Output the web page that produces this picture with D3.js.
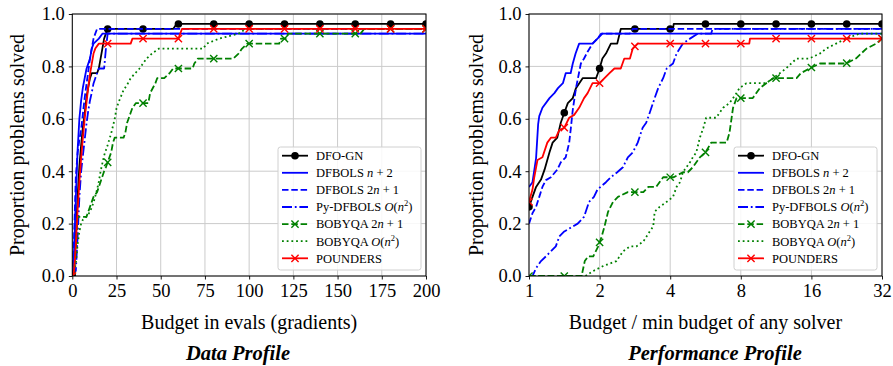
<!DOCTYPE html>
<html><head><meta charset="utf-8">
<script src="https://cdn.jsdelivr.net/npm/d3@7"></script>
<style>
body{margin:0;background:#fff}
svg{display:block}
text{font-family:"Liberation Serif","Times New Roman",serif;fill:#000}
</style>
</head><body>
<svg id="chart" width="893" height="366"></svg>
<script>
// ---- Solver names (legend order = drawing order) ----
const solverNames = ["DFO-GN", "DFBOLS n+2", "DFBOLS 2n+1", "Py-DFBOLS O(n^2)", "BOBYQA 2n+1", "BOBYQA O(n^2)", "POUNDERS"];

// ---- Data profile: [budget in evals, proportion solved] ----
const dataDfoGn = [[0,0],[1,0.02],[2,0.15],[3,0.3],[4,0.42],[5,0.5],[6,0.57],[7,0.62],[8,0.68],[9,0.72],[10,0.755],[11,0.774],[14,0.774],[15,0.792],[16,0.83],[17,0.868],[18,0.906],[19,0.925],[20,0.943],[57,0.943],[59,0.962],[200,0.962]];
const dataDfbolsN2 = [[0,0],[1,0.1],[2,0.3],[3,0.48],[4,0.6],[5,0.67],[6,0.72],[8,0.79],[10,0.83],[11,0.868],[12,0.887],[15,0.906],[17,0.925],[200,0.925]];
const dataDfbols2N1 = [[0,0],[1,0.15],[2,0.38],[3,0.47],[4,0.52],[5,0.56],[6,0.62],[7,0.68],[8,0.73],[9,0.78],[10,0.83],[11,0.868],[12,0.906],[13,0.925],[14,0.943],[200,0.943]];
const dataPyDfbols = [[0,0],[2,0.02],[3,0.15],[4,0.3],[5,0.4],[6,0.46],[7,0.52],[8,0.58],[9,0.63],[10,0.67],[11,0.7],[12,0.735],[13,0.755],[14,0.774],[15,0.792],[18,0.792],[19,0.868],[20,0.925],[200,0.925]];
const dataBobyqa2N1 = [[0,0],[1,0.02],[2,0.1],[3,0.226],[8,0.226],[9,0.245],[10,0.264],[11,0.283],[12,0.302],[14,0.32],[15,0.34],[16,0.36],[17,0.38],[18,0.4],[19,0.415],[20,0.434],[21,0.453],[22,0.472],[23,0.509],[24,0.528],[29,0.528],[30,0.547],[31,0.585],[32,0.604],[33,0.623],[34,0.642],[36,0.66],[43,0.66],[44,0.698],[47,0.736],[48,0.755],[52,0.755],[55,0.774],[57,0.792],[68,0.792],[69,0.811],[71,0.83],[91,0.83],[94,0.849],[96,0.868],[99,0.887],[117,0.887],[118,0.906],[121,0.906],[122,0.925],[163,0.925],[165,0.943],[200,0.943]];
const dataBobyqaN2 = [[0,0],[1,0.01],[2,0.05],[3,0.12],[4,0.17],[5,0.2],[6,0.215],[8,0.226],[10,0.245],[12,0.28],[14,0.33],[15,0.36],[16,0.4],[17,0.43],[18,0.46],[19,0.48],[20,0.5],[22,0.545],[24,0.6],[25,0.64],[26,0.66],[29,0.71],[31,0.73],[33,0.755],[38,0.792],[42,0.83],[45,0.849],[49,0.868],[74,0.868],[76,0.887],[83,0.906],[94,0.925],[98,0.943],[200,0.943]];
const dataPounders = [[0,0],[1,0.02],[2,0.12],[3,0.25],[4,0.36],[5,0.45],[6,0.53],[7,0.6],[8,0.66],[9,0.72],[10,0.77],[11,0.81],[12,0.849],[13,0.868],[15,0.887],[33,0.887],[34,0.906],[60,0.906],[62,0.943],[200,0.943]];

// ---- Performance profile: [budget / min budget, proportion solved] ----
const perfDfoGn = [[1,0.264],[1.035,0.302],[1.072,0.34],[1.125,0.368],[1.165,0.406],[1.223,0.472],[1.261,0.509],[1.32,0.528],[1.366,0.585],[1.414,0.623],[1.464,0.66],[1.537,0.679],[1.586,0.717],[1.693,0.755],[1.932,0.755],[2,0.792],[2.056,0.83],[2.129,0.849],[2.234,0.887],[2.378,0.887],[2.462,0.943],[4.112,0.943],[4.141,0.962],[32,0.962]];
const perfDfbolsN2 = [[1,0.34],[1.035,0.358],[1.072,0.45],[1.094,0.58],[1.106,0.61],[1.141,0.642],[1.223,0.679],[1.283,0.698],[1.329,0.717],[1.395,0.736],[1.434,0.774],[1.505,0.774],[1.537,0.811],[1.58,0.849],[1.636,0.887],[1.866,0.887],[1.959,0.906],[2.056,0.925],[32,0.925]];
const perfDfbols2N1 = [[1,0.2],[1.035,0.24],[1.072,0.264],[1.106,0.302],[1.141,0.34],[1.181,0.366],[1.24,0.377],[1.32,0.406],[1.366,0.434],[1.434,0.453],[1.484,0.509],[1.505,0.557],[1.537,0.634],[1.586,0.717],[1.664,0.811],[1.717,0.83],[1.778,0.856],[1.866,0.887],[1.959,0.906],[2.028,0.925],[2.694,0.925],[2.77,0.943],[32,0.943]];
const perfPyDfbols = [[1,0],[1.035,0],[1.072,0.03],[1.125,0.057],[1.181,0.075],[1.24,0.094],[1.301,0.113],[1.347,0.151],[1.414,0.17],[1.537,0.189],[1.613,0.2],[1.717,0.226],[1.803,0.283],[1.892,0.302],[1.959,0.33],[2.129,0.358],[2.234,0.377],[2.378,0.396],[2.514,0.415],[2.639,0.453],[2.77,0.472],[2.908,0.509],[3.052,0.566],[3.16,0.585],[3.272,0.623],[3.434,0.679],[3.555,0.717],[3.732,0.755],[3.864,0.792],[4.112,0.811],[4.257,0.849],[4.531,0.887],[4.857,0.906],[5.242,0.925],[5.979,0.925],[6.063,0.943],[32,0.943]];
const perfBobyqa2N1 = [[1,0],[1.676,0],[1.729,0.057],[1.79,0.075],[1.879,0.075],[1.973,0.113],[2.042,0.151],[2.099,0.189],[2.173,0.245],[2.282,0.283],[2.395,0.302],[2.639,0.32],[3.073,0.32],[3.227,0.34],[3.482,0.34],[3.732,0.377],[4.141,0.377],[4.531,0.396],[4.757,0.396],[4.993,0.415],[5.352,0.453],[5.657,0.472],[5.979,0.509],[6.964,0.509],[7.16,0.547],[7.311,0.604],[7.413,0.642],[7.674,0.679],[9.0,0.679],[9.646,0.717],[10.27,0.736],[11.0,0.755],[13.83,0.755],[14.42,0.774],[15.67,0.792],[17.39,0.811],[22.47,0.811],[24.76,0.83],[27.47,0.868],[30.27,0.887],[32,0.906]];
const perfBobyqaN2 = [[1,0],[1.741,0],[1.879,0.019],[2.071,0.038],[2.362,0.057],[2.514,0.094],[2.694,0.113],[2.868,0.113],[3.073,0.132],[3.272,0.17],[3.387,0.189],[3.434,0.245],[3.605,0.264],[3.864,0.283],[4.112,0.302],[4.257,0.34],[4.407,0.358],[4.531,0.396],[4.691,0.415],[4.857,0.434],[4.993,0.453],[5.169,0.472],[5.352,0.528],[5.541,0.566],[5.696,0.604],[6.276,0.604],[6.727,0.642],[7.16,0.66],[7.674,0.698],[7.89,0.717],[8.456,0.736],[10.27,0.736],[11.0,0.755],[12.47,0.792],[13.83,0.83],[15.67,0.83],[17.39,0.849],[18.51,0.868],[20.39,0.887],[22.47,0.906],[25.63,0.925],[32,0.925]];
const perfPounders = [[1,0.283],[1.035,0.33],[1.053,0.377],[1.087,0.443],[1.141,0.453],[1.197,0.509],[1.24,0.528],[1.301,0.528],[1.347,0.557],[1.414,0.566],[1.484,0.604],[1.558,0.615],[1.636,0.642],[1.717,0.679],[1.778,0.698],[1.866,0.736],[2,0.736],[2.099,0.755],[2.204,0.774],[2.313,0.792],[2.462,0.792],[2.549,0.83],[2.694,0.83],[2.77,0.868],[2.908,0.887],[8.694,0.887],[8.754,0.906],[32,0.906]];

// ---- Ticks and marker positions ----
const yTicks = [0, 0.2, 0.4, 0.6, 0.8, 1.0];
const dataXTicks = [0, 25, 50, 75, 100, 125, 150, 175, 200];
const perfXTicks = [1, 2, 4, 8, 16, 32];
const dataMarkerXs = [0, 20, 40, 60, 80, 100, 120, 140, 160, 180, 200];
const perfMarkerXs = [1, 1.414, 2, 2.828, 4, 5.657, 8, 11.31, 16, 22.63, 32];

// ---- Line styles per solver ----
const styles = [
  {color: "#000000", dash: null, marker: "o"},
  {color: "#0000ff", dash: null, marker: null},
  {color: "#0000ff", dash: "6.5,2.8", marker: null},
  {color: "#0000ff", dash: "10,2.8,1.8,2.8", marker: null},
  {color: "#008000", dash: "6.5,2.8", marker: "x"},
  {color: "#008000", dash: "1.8,2.9", marker: null},
  {color: "#ff0000", dash: null, marker: "x"}
];

// legend labels with math pieces
const legendParts = [
  [{t: "DFO-GN"}],
  [{t: "DFBOLS "}, {t: "n", i: 1}, {t: " + 2"}],
  [{t: "DFBOLS 2"}, {t: "n", i: 1}, {t: " + 1"}],
  [{t: "Py-DFBOLS "}, {t: "O", i: 1}, {t: "("}, {t: "n", i: 1}, {t: "2", sup: 1}, {t: ")", after: 1}],
  [{t: "BOBYQA 2"}, {t: "n", i: 1}, {t: " + 1"}],
  [{t: "BOBYQA "}, {t: "O", i: 1}, {t: "("}, {t: "n", i: 1}, {t: "2", sup: 1}, {t: ")", after: 1}],
  [{t: "POUNDERS"}]
];

const svg = d3.select("#chart");
const plotTop = 14, plotBottom = 276;
const lineWidth = 1.8;

function drawMarker(g, kind, cx, cy, color) {
  if (kind === "o") {
    g.append("circle").attr("cx", cx).attr("cy", cy).attr("r", 3.8).attr("fill", color);
  } else if (kind === "x") {
    const s = 3.6;
    g.append("path")
      .attr("d", `M${cx - s},${cy - s}L${cx + s},${cy + s}M${cx - s},${cy + s}L${cx + s},${cy - s}`)
      .attr("stroke", color).attr("stroke-width", 1.4).attr("fill", "none");
  }
}

// y value of a polyline at a given x, interpolated in screen space
function interpAt(series, xv, sx) {
  const px = sx(xv);
  let val = series[series.length - 1][1];
  for (let i = 0; i < series.length - 1; i++) {
    const a = sx(series[i][0]), b = sx(series[i + 1][0]);
    if (px >= a && px <= b) {
      val = b === a ? series[i + 1][1] : series[i][1] + (series[i + 1][1] - series[i][1]) * (px - a) / (b - a);
      break;
    }
  }
  return val;
}

function panel(cfg) {
  const {left, right, x, series, xTicks, markerXs, xFormat, xlabel, title, titleX, ylabelX, id} = cfg;
  const y = d3.scaleLinear().domain([0, 1]).range([plotBottom, plotTop]);
  const g = svg.append("g");

  // grid
  const grid = g.append("g").attr("stroke", "#cbcbcb").attr("stroke-width", 1);
  xTicks.forEach(t => grid.append("line").attr("x1", x(t)).attr("x2", x(t)).attr("y1", plotTop).attr("y2", plotBottom));
  yTicks.forEach(t => grid.append("line").attr("x1", left).attr("x2", right).attr("y1", y(t)).attr("y2", y(t)));

  // clip to the axes box
  svg.append("defs").append("clipPath").attr("id", id)
    .append("rect").attr("x", left).attr("y", plotTop).attr("width", right - left).attr("height", plotBottom - plotTop);
  const plot = g.append("g").attr("clip-path", `url(#${id})`);

  const line = d3.line().x(d => x(d[0])).y(d => y(d[1]));
  series.forEach((s, i) => {
    const st = styles[i];
    plot.append("path").datum(s).attr("d", line)
      .attr("fill", "none").attr("stroke", st.color).attr("stroke-width", lineWidth)
      .attr("stroke-dasharray", st.dash).attr("stroke-linejoin", "round");
    if (st.marker) {
      markerXs.forEach(mx => drawMarker(plot, st.marker, x(mx), y(interpAt(s, mx, x)), st.color));
    }
  });

  // axes
  const xAxis = d3.axisBottom(x).tickValues(xTicks).tickFormat(xFormat).tickSizeOuter(0).tickSize(3.5).tickPadding(4);
  const yAxis = d3.axisLeft(y).tickValues(yTicks).tickFormat(d3.format(".1f")).tickSizeOuter(0).tickSize(3.5).tickPadding(4);
  const ax = g.append("g").attr("transform", `translate(0,${plotBottom})`).call(xAxis);
  const ay = g.append("g").attr("transform", `translate(${left},0)`).call(yAxis);
  [ax, ay].forEach(a => {
    a.select(".domain").remove();
    a.selectAll("line").attr("stroke", "#000").attr("stroke-width", 0.9);
    a.selectAll("text").style("font-family", '"Liberation Serif",serif').style("font-size", "18.5px").attr("fill", "#000");
  });
  ax.selectAll("text").attr("dy", "0.75em");

  // frame
  g.append("rect").attr("x", left).attr("y", plotTop).attr("width", right - left).attr("height", plotBottom - plotTop)
    .attr("fill", "none").attr("stroke", "#000").attr("stroke-width", 1);

  // legend
  const lw = 143, lh = 123;
  const lx = right - 5 - lw, ly = plotBottom - 6 - lh;
  const leg = g.append("g");
  leg.append("rect").attr("x", lx).attr("y", ly).attr("width", lw).attr("height", lh).attr("rx", 2.5)
    .attr("fill", "#fff").attr("fill-opacity", 0.85).attr("stroke", "#d0d0d0").attr("stroke-width", 1);
  solverNames.forEach((name, i) => {
    const st = styles[i];
    const cy = ly + 8.7 + i * 17.1;
    leg.append("line").attr("x1", lx + 4).attr("x2", lx + 30).attr("y1", cy).attr("y2", cy)
      .attr("stroke", st.color).attr("stroke-width", lineWidth).attr("stroke-dasharray", st.dash);
    if (st.marker) drawMarker(leg, st.marker, lx + 17, cy, st.color);
    const tx = leg.append("text").attr("x", lx + 38).attr("y", cy + 4.3).style("font-size", "12.5px");
    legendParts[i].forEach(p => {
      const ts = tx.append("tspan").text(p.t);
      if (p.i) ts.style("font-style", "italic");
      if (p.sup) ts.style("font-size", "8.5px").attr("dy", -5);
      if (p.after) ts.attr("dy", 5);
    });
  });

  // labels
  g.append("text").attr("x", (left + right) / 2).attr("y", 329).attr("text-anchor", "middle")
    .style("font-size", "20px").text(xlabel);
  g.append("text").attr("transform", `translate(${ylabelX},${(plotTop + plotBottom) / 2}) rotate(-90)`)
    .attr("text-anchor", "middle").style("font-size", "20px").text("Proportion problems solved");
  g.append("text").attr("x", titleX).attr("y", 360).attr("text-anchor", "middle")
    .style("font-size", "20.5px").style("font-style", "italic").style("font-weight", "bold").text(title);
}

panel({
  id: "clipData", left: 72.3, right: 426,
  x: d3.scaleLinear().domain([0, 200]).range([72.3, 426]),
  series: [dataDfoGn, dataDfbolsN2, dataDfbols2N1, dataPyDfbols, dataBobyqa2N1, dataBobyqaN2, dataPounders],
  xTicks: dataXTicks, markerXs: dataMarkerXs, xFormat: d3.format("d"),
  xlabel: "Budget in evals (gradients)", title: "Data Profile", titleX: 238, ylabelX: 24
});

panel({
  id: "clipPerf", left: 529, right: 882,
  x: d3.scaleLog().base(2).domain([1, 32]).range([529, 882]),
  series: [perfDfoGn, perfDfbolsN2, perfDfbols2N1, perfPyDfbols, perfBobyqa2N1, perfBobyqaN2, perfPounders],
  xTicks: perfXTicks, markerXs: perfMarkerXs, xFormat: d3.format("d"),
  xlabel: "Budget / min budget of any solver", title: "Performance Profile", titleX: 715, ylabelX: 483
});
</script>
</body></html>
